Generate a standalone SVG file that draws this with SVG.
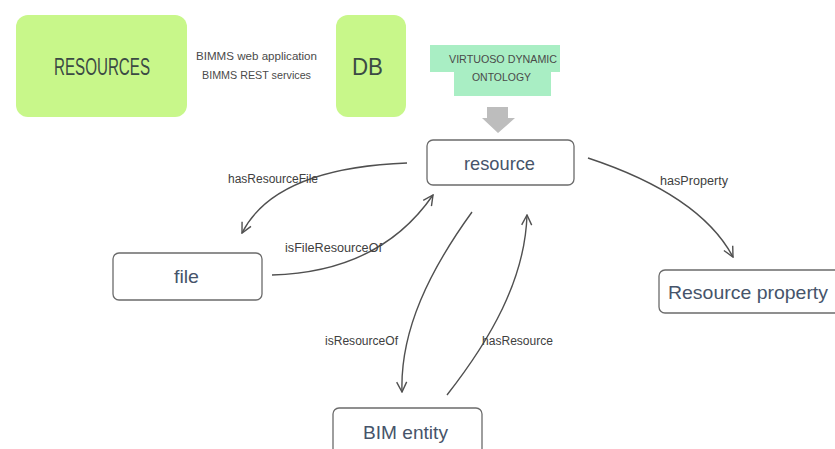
<svg xmlns="http://www.w3.org/2000/svg" width="835" height="449" viewBox="0 0 835 449">
<defs>
<style>
.green{fill:#c8f78a;stroke:none}
.node{fill:#fff;stroke:#6b6b6b;stroke-width:1.3}
.nl{font-family:"Liberation Sans",Arial,sans-serif;fill:#46546a;font-size:19px}
.el{font-family:"Liberation Sans",Arial,sans-serif;fill:#404040;font-size:12.5px}
.sm{font-family:"Liberation Sans",Arial,sans-serif;fill:#4a4a4a;font-size:11.5px}
.big{font-family:"Liberation Sans",Arial,sans-serif;fill:#3b4a44;font-size:23px}
.edge{fill:none;stroke:#505050;stroke-width:1.4}
</style>
<marker id="ah" viewBox="0 0 12 12" refX="11" refY="6" markerWidth="12" markerHeight="12" markerUnits="userSpaceOnUse" orient="auto">
<path d="M1,1 L11,6 L1,11" fill="none" stroke="#505050" stroke-width="1.4"/>
</marker>
</defs>
<rect width="835" height="449" fill="#fff"/>
<g id="resources">
<rect class="green" x="16" y="15" width="171" height="102" rx="12"/>
<text class="big" x="54" y="75" textLength="96" lengthAdjust="spacingAndGlyphs">RESOURCES</text>
</g>
<g id="bimms">
<text class="sm" x="196" y="60" textLength="121" lengthAdjust="spacingAndGlyphs">BIMMS web application</text>
<text class="sm" x="202" y="79" textLength="109" lengthAdjust="spacingAndGlyphs">BIMMS REST services</text>
</g>
<g id="db">
<rect class="green" x="336" y="15" width="70" height="102" rx="12"/>
<text class="big" x="352" y="75" textLength="31" lengthAdjust="spacingAndGlyphs">DB</text>
</g>
<g id="virtuoso">
<rect x="430" y="45" width="130" height="27" fill="#a9eec4"/>
<rect x="454" y="71" width="97" height="25" fill="#a9eec4"/>
<text class="sm" x="449" y="63" textLength="108" lengthAdjust="spacingAndGlyphs">VIRTUOSO DYNAMIC</text>
<text class="sm" x="472" y="81" textLength="59" lengthAdjust="spacingAndGlyphs">ONTOLOGY</text>
</g>
<g id="gray-arrow">
<path d="M487,107 L508,107 L508,118 L515,118 L498,133 L482,118 L487,118 Z" fill="#bdbdbd"/>
</g>
<g id="resource">
<rect class="node" x="427" y="140" width="147" height="45" rx="6"/>
<text class="nl" x="464" y="170" textLength="71" lengthAdjust="spacingAndGlyphs">resource</text>
</g>
<g id="file">
<rect class="node" x="113" y="253" width="149" height="47" rx="6"/>
<text class="nl" x="174" y="283" textLength="25" lengthAdjust="spacingAndGlyphs">file</text>
</g>
<g id="bim-entity">
<rect class="node" x="333" y="408" width="149" height="50" rx="6"/>
<text class="nl" x="363" y="439" textLength="85" lengthAdjust="spacingAndGlyphs">BIM entity</text>
</g>
<g id="resource-property">
<rect class="node" x="659" y="270" width="185" height="43" rx="6"/>
<text class="nl" x="668" y="299" textLength="160" lengthAdjust="spacingAndGlyphs">Resource property</text>
</g>
<g id="connectors">
<path class="edge" d="M407,163 Q275,168 242,233" marker-end="url(#ah)"/>
<path class="edge" d="M272,275 Q380,272 433,195" marker-end="url(#ah)"/>
<path class="edge" d="M472,212 C430,270 400,330 402,392" marker-end="url(#ah)"/>
<path class="edge" d="M447,395 C490,340 525,280 527,215" marker-end="url(#ah)"/>
<path class="edge" d="M588,158 Q700,195 733,257" marker-end="url(#ah)"/>
<text class="el" x="228" y="183" textLength="90" lengthAdjust="spacingAndGlyphs">hasResourceFile</text>
<text class="el" x="285" y="252" textLength="97" lengthAdjust="spacingAndGlyphs">isFileResourceOf</text>
<text class="el" x="325" y="345" textLength="73" lengthAdjust="spacingAndGlyphs">isResourceOf</text>
<text class="el" x="482" y="345" textLength="71" lengthAdjust="spacingAndGlyphs">hasResource</text>
<text class="el" x="660" y="185" textLength="68" lengthAdjust="spacingAndGlyphs">hasProperty</text>
</g>
</svg>
